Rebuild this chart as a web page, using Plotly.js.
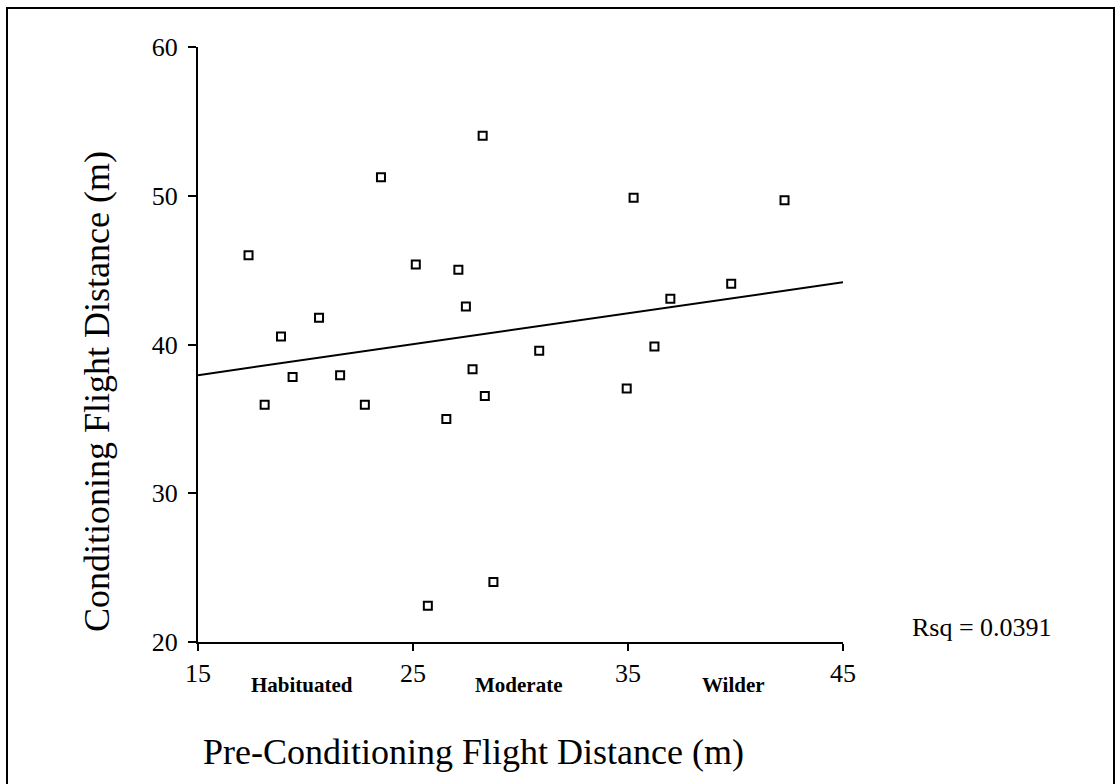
<!DOCTYPE html>
<html>
<head>
<meta charset="utf-8">
<script src="https://cdn.plot.ly/plotly-3.0.1.min.js"></script>
<style>html,body{margin:0;padding:0;background:#fff;}#chart{width:1119px;height:784px;}</style>
</head>
<body>
<div id="chart"></div>
<script>
// Pre-conditioning flight distance (m)
const preDistance = [17.35, 23.51, 28.24, 25.13, 27.11, 27.46, 20.63, 18.86, 19.40, 21.61, 18.10, 22.76,
                     26.55, 27.77, 28.34, 35.26, 42.28, 39.80, 36.97, 36.23, 30.87, 34.94, 25.69, 28.74];
// Conditioning flight distance (m)
const condDistance = [46.0, 51.25, 54.03, 45.37, 45.03, 42.55, 41.79, 40.54, 37.81, 37.94, 35.95, 35.95,
                      34.99, 38.34, 36.53, 49.87, 49.69, 44.09, 43.07, 39.87, 39.58, 37.05, 22.44, 24.03];
// Fitted regression line (read at the axis ends)
const fitX = [15, 45];
const fitY = [37.94, 44.18];
const rsqText = 'Rsq = 0.0391';
const xTicks = [15, 25, 35, 45];
const yTicks = [20, 30, 40, 50, 60];
const groupLabels = ['Habituated', 'Moderate', 'Wilder'];
const groupCentres = [19.85, 29.9, 39.9];
const xTitle = 'Pre-Conditioning Flight Distance (m)';
const yTitle = 'Conditioning Flight Distance (m)';

const serif = 'Liberation Serif, Times New Roman, serif';

const traces = [
  {
    x: fitX, y: fitY, mode: 'lines', type: 'scatter',
    line: {color: '#000', width: 2}, hoverinfo: 'skip', showlegend: false
  },
  {
    x: preDistance, y: condDistance, mode: 'markers', type: 'scatter',
    marker: {symbol: 'square-open', size: 8, color: '#000', line: {color: '#000', width: 2}},
    showlegend: false
  }
];

const W = 1119, H = 784, L = 198, R = 276, T = 47, B = 142;
const pw = W - L - R, ph = H - T - B;
const px = v => (v - L) / pw;
const py = v => (H - B - v) / ph;

const annotations = [
  {text: xTitle, xref: 'paper', yref: 'paper', x: px(473), y: py(752), xanchor: 'center', yanchor: 'middle',
   showarrow: false, font: {family: serif, size: 36, color: '#000'}},
  {text: yTitle, xref: 'paper', yref: 'paper', x: px(97), y: py(392), xanchor: 'center', yanchor: 'middle',
   textangle: -90, showarrow: false, font: {family: serif, size: 36, color: '#000'}},
  {text: rsqText, xref: 'paper', yref: 'paper', x: px(982), y: py(627), xanchor: 'center', yanchor: 'middle',
   showarrow: false, font: {family: serif, size: 26, color: '#000'}}
];
groupLabels.forEach((g, i) => {
  annotations.push({text: '<b>' + g + '</b>', xref: 'x', yref: 'paper', x: groupCentres[i], y: py(685),
    xanchor: 'center', yanchor: 'middle', showarrow: false, font: {family: serif, size: 21, color: '#000'}});
});

const axisCommon = {
  showline: true, linecolor: '#000', linewidth: 2, ticks: 'outside', tickcolor: '#000', tickwidth: 2,
  showgrid: false, zeroline: false, tickfont: {family: serif, size: 26, color: '#000'}, fixedrange: true
};

const layout = {
  width: W, height: H,
  margin: {l: L, r: R, t: T, b: B, pad: 0},
  paper_bgcolor: '#fff', plot_bgcolor: '#fff',
  showlegend: false,
  xaxis: Object.assign({}, axisCommon, {range: [15, 45], tickvals: xTicks, ticktext: xTicks.map(String), ticklen: 7}),
  yaxis: Object.assign({}, axisCommon, {range: [20, 60], tickvals: yTicks, ticktext: yTicks.map(String), ticklen: 8,
    ticklabelstandoff: 5}),
  annotations: annotations,
  shapes: [
    {type: 'rect', xref: 'paper', yref: 'paper', x0: px(7), x1: px(1114), y0: py(800), y1: py(8),
     line: {color: '#000', width: 2}, fillcolor: 'rgba(0,0,0,0)'}
  ]
};

Plotly.newPlot('chart', traces, layout, {displayModeBar: false, staticPlot: true});
</script>
</body>
</html>
